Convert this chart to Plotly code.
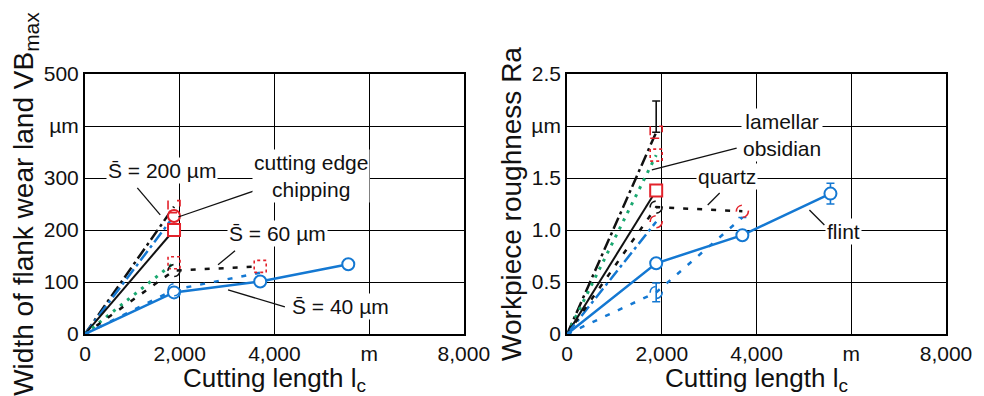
import plotly.graph_objects as go

# ---------------- data ----------------
len_1 = [0, 1880]
len_2 = [0, 1880, 3700]
len_3 = [0, 1880, 3700, 5560]

# Left panel: width of flank wear land VBmax (µm)
vb_black_solid = [0, 200]
vb_black_dashdot = [0, 245]
vb_blue_dashdot = [0, 227]
vb_green_dot = [0, 137]
vb_black_dot = [0, 122, 130]
vb_blue_dot = [0, 85, 118]
vb_blue_solid = [0, 80, 101, 134]
vb_blue_solid_err = [0, 5, 3, 4]

# Right panel: workpiece roughness Ra (µm)
ra_black_solid = [0, 1.38]
ra_black_dashdot = [0, 1.94]
ra_black_dashdot_err = [0, 0.30]
ra_green_dot = [0, 1.72]
ra_blue_dashdot = [0, 1.08]
ra_black_dot = [0, 1.22, 1.18]
ra_blue_dot = [0, 0.40, 1.12]
ra_blue_dot_err = [0, 0.09, 0]
ra_blue_solid = [0, 0.68, 0.95, 1.35]
ra_blue_solid_err = [0, 0.04, 0.02, 0.10]

x_tickvals = [0, 2000, 4000, 6000, 8000]
x_ticktext = ["0", "2,000", "4,000", "m", "8,000"]
vb_tickvals = [0, 100, 200, 300, 400, 500]
vb_ticktext = ["0", "100", "200", "300", "µm", "500"]
ra_tickvals = [0, 0.5, 1.0, 1.5, 2.0, 2.5]
ra_ticktext = ["0", "0.5", "1.0", "1.5", "µm", "2.5"]

# ---------------- styles ----------------
BLUE = "#1478d2"
GREEN = "#1aa870"
RED = "#e3222b"
BLACK = "#111111"
FONT = "Liberation Sans, Arial, sans-serif"

D_DASHDOT = "12px,4px,3px,4px"
D_GREEN = "3px,6px"
D_DOT = "5px,9px"

fig = go.Figure()
shapes = []


def line(x, y, color, dash, width, xa, ya, err=None, errcolor=None, errminus=None):
    kw = {}
    if err is not None:
        kw["error_y"] = dict(type="data", array=err,
                             arrayminus=errminus if errminus is not None else err,
                             color=errcolor or color, thickness=1.6, width=4)
    fig.add_trace(go.Scatter(x=x, y=y, mode="lines", xaxis=xa, yaxis=ya,
                             line=dict(color=color, dash=dash, width=width),
                             showlegend=False, hoverinfo="skip", **kw))


def marker(x, y, symbol, color, xa, ya):
    fig.add_trace(go.Scatter(x=[x], y=[y], mode="markers", xaxis=xa, yaxis=ya,
                             marker=dict(symbol=symbol, size=12, color="white",
                                         line=dict(color=color, width=2)),
                             showlegend=False, hoverinfo="skip", cliponaxis=False))


def dashed_marker(x, y, kind, color, xr, yr, dash="dot"):
    shapes.append(dict(type=kind, xref=xr, yref=yr, xsizemode="pixel", ysizemode="pixel",
                       xanchor=x, yanchor=y, x0=-6, x1=6, y0=-6, y1=6,
                       line=dict(color=color, width=1.6, dash=dash),
                       fillcolor="rgba(255,255,255,0)", layer="above"))


# ---------- left panel ----------
XA, YA, XR, YR = "x", "y", "x", "y"
line(len_1, vb_black_dashdot, BLACK, D_DASHDOT, 2.5, XA, YA)
line(len_1, vb_blue_dashdot, BLUE, D_DASHDOT, 2.5, XA, YA)
line(len_1, vb_black_solid, BLACK, "solid", 2, XA, YA)
line(len_1, vb_green_dot, GREEN, D_GREEN, 3, XA, YA)
line(len_2, vb_black_dot, BLACK, D_DOT, 2.5, XA, YA)
line(len_2, vb_blue_dot, BLUE, D_DOT, 2.5, XA, YA)
line(len_3, vb_blue_solid, BLUE, "solid", 2.5, XA, YA, err=vb_blue_solid_err)
dashed_marker(len_1[-1], vb_black_dashdot[-1], "rect", RED, XR, YR, "dash")
dashed_marker(len_1[-1], vb_green_dot[-1], "rect", RED, XR, YR, "dot")
dashed_marker(len_2[1], vb_black_dot[1], "circle", BLACK, XR, YR, "dash")
dashed_marker(len_2[-1], vb_black_dot[-1], "rect", RED, XR, YR, "dot")
dashed_marker(len_2[1], vb_blue_dot[1], "circle", BLUE, XR, YR, "dash")
marker(len_1[-1], vb_blue_dashdot[-1], "circle", RED, XA, YA)
marker(len_1[-1], vb_black_solid[-1], "square", RED, XA, YA)
for i in range(1, len(len_3)):
    marker(len_3[i], vb_blue_solid[i], "circle", BLUE, XA, YA)

# ---------- right panel ----------
XA, YA, XR, YR = "x2", "y2", "x2", "y2"
line(len_1, ra_black_dashdot, BLACK, D_DASHDOT, 2.5, XA, YA,
     err=ra_black_dashdot_err, errcolor=BLACK, errminus=[0, 0])
line(len_1, ra_green_dot, GREEN, D_GREEN, 3, XA, YA)
line(len_1, ra_black_solid, BLACK, "solid", 2, XA, YA)
line(len_1, ra_blue_dashdot, BLUE, D_DASHDOT, 2.5, XA, YA)
line(len_2, ra_black_dot, BLACK, D_DOT, 2.5, XA, YA)
line(len_2, ra_blue_dot, BLUE, D_DOT, 2.5, XA, YA, err=ra_blue_dot_err)
line(len_3, ra_blue_solid, BLUE, "solid", 2.5, XA, YA, err=ra_blue_solid_err)
dashed_marker(len_1[-1], ra_black_dashdot[-1], "rect", RED, XR, YR, "dash")
dashed_marker(len_1[-1], ra_green_dot[-1], "rect", RED, XR, YR, "dot")
dashed_marker(len_1[-1], ra_blue_dashdot[-1], "circle", RED, XR, YR, "dash")
dashed_marker(len_2[1], ra_black_dot[1], "circle", BLACK, XR, YR, "dash")
dashed_marker(len_2[-1], ra_black_dot[-1], "circle", RED, XR, YR, "dash")
dashed_marker(len_2[1], ra_blue_dot[1], "circle", BLUE, XR, YR, "dash")
marker(len_1[-1], ra_black_solid[-1], "square", RED, XA, YA)
for i in range(1, len(len_3)):
    marker(len_3[i], ra_blue_solid[i], "circle", BLUE, XA, YA)

# ---------- annotations ----------
S = "S\u0304"
ann_style = dict(showarrow=False, bgcolor="white", borderpad=1,
                 font=dict(family=FONT, size=21, color=BLACK))
XT = "Cutting length l<sub><span style='font-size:19px'>c</span></sub>"
xt_style = dict(showarrow=False, x=0.5, y=0, yanchor="top", xanchor="center", yshift=-27,
                font=dict(family=FONT, size=26, color=BLACK))
annotations = [
    dict(x=1632, y=315, xref="x", yref="y", text=f"{S} = 200 µm", **ann_style),
    dict(x=4768, y=304, xref="x", yref="y", text="cutting edge<br>chipping", **ann_style),
    dict(x=4074, y=194, xref="x", yref="y", text=f"{S} = 60 µm", **ann_style),
    dict(x=5400, y=52, xref="x", yref="y", text=f"{S} = 40 µm", **ann_style),
    dict(x=4547, y=1.913, xref="x2", yref="y2", text="lamellar<br>obsidian", **ann_style),
    dict(x=3368, y=1.51, xref="x2", yref="y2", text="quartz", **ann_style),
    dict(x=5832, y=0.981, xref="x2", yref="y2", text="flint", **ann_style),
    dict(xref="x domain", yref="y domain", text=XT, **xt_style),
    dict(xref="x2 domain", yref="y2 domain", text=XT, **xt_style),
]
leaders = [
    ("x", "y", 1105, 281, 1589, 229),
    ("x", "y", 3632, 277, 1968, 225),
    ("x", "y", 3168, 160, 2810, 133),
    ("x", "y", 3021, 85, 4221, 52),
    ("x2", "y2", 3579, 1.788, 1789, 1.577),
    ("x2", "y2", 3221, 1.356, 2968, 1.240),
    ("x2", "y2", 5432, 1.048, 5116, 1.192),
]
for xr, yr, x0, y0, x1, y1 in leaders:
    shapes.append(dict(type="line", xref=xr, yref=yr, x0=x0, y0=y0, x1=x1, y1=y1,
                       line=dict(color=BLACK, width=1.3), layer="above"))

axis_common = dict(showline=True, linecolor="black", linewidth=2, mirror=True,
                   showgrid=True, gridcolor="black", gridwidth=1.3, zeroline=False,
                   ticks="", automargin=False,
                   tickfont=dict(family=FONT, size=21, color=BLACK))
ytitle_font = dict(family=FONT, size=28, color=BLACK)

# page body adds an 8px offset, so the margins compensate for it
fig.update_layout(
    width=984, height=396,
    margin=dict(l=77, r=46, t=66, b=70),
    paper_bgcolor="white", plot_bgcolor="white",
    showlegend=False,
    xaxis=dict(domain=[0, 0.440], range=[0, 8000], tickvals=x_tickvals, ticktext=x_ticktext,
               **axis_common),
    yaxis=dict(domain=[0, 1], range=[0, 500], tickvals=vb_tickvals, ticktext=vb_ticktext,
               title=dict(text="Width of flank wear land VB<sub><span style='font-size:21px'>max</span></sub>",
                          font=ytitle_font, standoff=2),
               **axis_common),
    xaxis2=dict(domain=[0.560, 1], range=[0, 8000], tickvals=x_tickvals, ticktext=x_ticktext,
                anchor="y2",
                **axis_common),
    yaxis2=dict(domain=[0, 1], range=[0, 2.5], tickvals=ra_tickvals, ticktext=ra_ticktext,
                anchor="x2",
                title=dict(text="Workpiece roughness Ra", font=ytitle_font, standoff=2),
                **axis_common),
    annotations=annotations,
    shapes=shapes,
)

fig.write_html("out.html")
